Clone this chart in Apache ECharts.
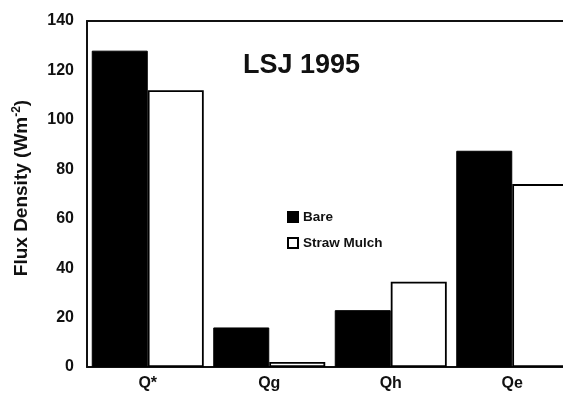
<!DOCTYPE html>
<html>
<head>
<meta charset="utf-8">
<script src="https://cdn.jsdelivr.net/npm/echarts@6/dist/echarts.min.js"></script>
<style>html,body{margin:0;padding:0;background:#fff;}#c{width:563px;height:401px;}</style>
</head>
<body>
<div id="c"></div>
<script>
var categories = ['Q*', 'Qg', 'Qh', 'Qe'];
var bare = [128, 16, 23, 87.5];
var strawMulch = [112, 2, 34.5, 74];
var yTicks = [0, 20, 40, 60, 80, 100, 120, 140];
var titleText = 'LSJ 1995';

var F = '"Liberation Sans", Arial, Helvetica, sans-serif';
var chart = echarts.init(document.getElementById('c'), null, {renderer: 'canvas'});
chart.setOption({
  animation: false,
  backgroundColor: '#fff',
  textStyle: {fontFamily: F},
  title: {
    text: titleText, left: 238, top: 47,
    textStyle: {fontFamily: F, fontWeight: 'bold', fontSize: 27, color: '#111'}
  },
  legend: {
    orient: 'vertical', left: 282, top: 205, itemGap: 12,
    itemWidth: 10, itemHeight: 10, icon: 'rect',
    textStyle: {fontFamily: F, fontWeight: 'bold', fontSize: 13.5, color: '#111'},
    data: ['Bare', 'Straw Mulch']
  },
  grid: {left: 87, top: 21, width: 486, height: 346, outerBoundsMode: 'none', containLabel: false},
  xAxis: [{
    type: 'category', data: categories,
    axisLine: {lineStyle: {color: '#111', width: 2}},
    axisTick: {show: false},
    axisLabel: {fontFamily: F, fontWeight: 'bold', fontSize: 16, color: '#111', margin: 9}
  }, {
    type: 'category', data: categories, position: 'top',
    axisLine: {lineStyle: {color: '#111', width: 2}},
    axisTick: {show: false}, axisLabel: {show: false}
  }],
  yAxis: {
    type: 'value', min: 0, max: 140, interval: 20,
    axisLine: {show: true, lineStyle: {color: '#111', width: 2}},
    axisTick: {show: false},
    splitLine: {show: false},
    axisLabel: {fontFamily: F, fontWeight: 'bold', fontSize: 16, color: '#111', margin: 13,
      formatter: function (v) { return yTicks.indexOf(v) >= 0 ? String(v) : ''; }},
    name: 'Flux Density (Wm{sup|-2})',
    nameLocation: 'middle', nameGap: 54, nameRotate: 90,
    nameTextStyle: {fontFamily: F, fontWeight: 'bold', fontSize: 19, color: '#111', padding: [0, 0, 0, 12],
      rich: {sup: {fontFamily: F, fontWeight: 'bold', fontSize: 12, color: '#111', verticalAlign: 'top', padding: [0, 0, 10, 0]}}}
  },
  series: [{
    name: 'Bare', type: 'bar', data: bare, barWidth: 56, barGap: '0%',
    itemStyle: {color: '#000', borderColor: '#000', borderWidth: 1}
  }, {
    name: 'Straw Mulch', type: 'bar', data: strawMulch, barWidth: 56,
    itemStyle: {color: '#fff', borderColor: '#000', borderWidth: 1.8}
  }]
});
</script>
</body>
</html>
